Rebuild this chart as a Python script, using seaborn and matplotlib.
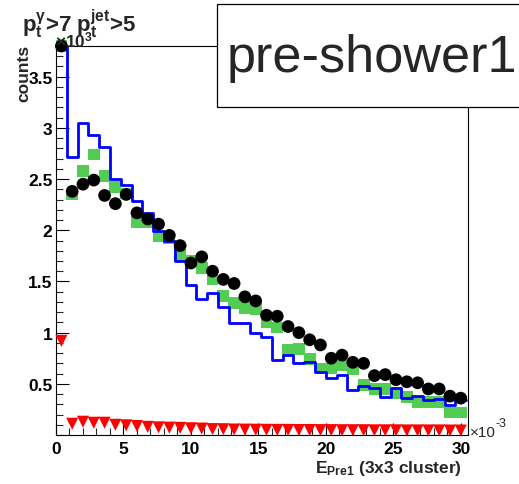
import numpy as np
import pandas as pd
import matplotlib
matplotlib.use("Agg")
import matplotlib.pyplot as plt
from matplotlib.patches import Rectangle
from matplotlib.ticker import MultipleLocator
import seaborn as sns

# ---------------- data (values in units of 1e3 counts, x in units of 1e-3) -------------
bin_edges = [round(0.8 * i, 2) for i in range(39)]          # 38 bins of width 0.8e-3
bin_centers = [round(0.4 + 0.8 * i, 2) for i in range(38)]

blue_hist = [3.85, 2.72, 3.05, 2.93, 2.81, 2.50, 2.44, 2.29, 2.17, 1.99,
             1.90, 1.70, 1.47, 1.33, 1.39, 1.25, 1.09, 1.09, 1.00, 0.96,
             0.73, 0.78, 0.70, 0.71, 0.62, 0.56, 0.59, 0.44, 0.48, 0.46,
             0.37, 0.46, 0.36, 0.38, 0.34, 0.35, 0.29, 0.34]

green_sq = [3.80, 2.35, 2.58, 2.74, 2.53, 2.42, 2.36, 2.08, 2.08, 1.94,
            1.92, 1.76, 1.70, 1.63, 1.52, 1.36, 1.29, 1.24, 1.23, 1.10,
            1.05, 0.83, 0.84, 0.74, 0.65, 0.65, 0.68, 0.64, 0.49, 0.45,
            0.45, 0.41, 0.37, 0.32, 0.32, 0.32, 0.22, 0.22]

black_dots = [3.80, 2.38, 2.45, 2.49, 2.34, 2.26, 2.35, 2.17, 2.11, 2.06,
              1.95, 1.85, 1.68, 1.74, 1.60, 1.52, 1.48, 1.35, 1.31, 1.17,
              1.16, 1.06, 1.00, 0.93, 0.88, 0.75, 0.78, 0.71, 0.70, 0.58,
              0.59, 0.54, 0.52, 0.51, 0.45, 0.45, 0.38, 0.36]

red_tri = [0.92, 0.11, 0.13, 0.12, 0.12, 0.10, 0.095, 0.088, 0.080, 0.075,
           0.072, 0.070, 0.066, 0.063, 0.058, 0.057, 0.054, 0.053, 0.052, 0.051,
           0.050, 0.050, 0.049, 0.049, 0.048, 0.048, 0.047, 0.047, 0.047, 0.046,
           0.046, 0.046, 0.045, 0.045, 0.045, 0.045, 0.044, 0.044]

x_ticks = [0, 5, 10, 15, 20, 25, 30]
x_tick_labels = ["0", "5", "10", "15", "20", "25", "30"]
y_ticks = [0.5, 1.0, 1.5, 2.0, 2.5, 3.0, 3.5]
y_tick_labels = ["0.5", "1", "1.5", "2", "2.5", "3", "3.5"]

df = pd.DataFrame({"x": bin_centers, "blue": blue_hist, "green": green_sq,
                   "black": black_dots, "red": red_tri})

# ---------------- style -------------
sns.set_style("white")
plt.rcParams["font.family"] = ["Liberation Sans", "DejaVu Sans"]
plt.rcParams["mathtext.fontset"] = "custom"
plt.rcParams["mathtext.rm"] = "Liberation Sans:bold"
plt.rcParams["mathtext.it"] = "Liberation Sans:bold"
plt.rcParams["mathtext.bf"] = "Liberation Sans:bold"
plt.rcParams["mathtext.sf"] = "Liberation Sans:bold"
plt.rcParams["mathtext.default"] = "rm"

GREEN = "#52cc52"

fig = plt.figure(figsize=(5.19, 4.85), dpi=100)
ax = fig.add_axes([0.1079, 0.1010, 0.7929, 0.8021])

sns.scatterplot(data=df, x="x", y="green", marker="s", s=72, color=GREEN,
                edgecolor="none", linewidth=0, ax=ax, zorder=2, clip_on=False)
sns.histplot(data=df, x="x", weights="blue", bins=bin_edges, element="step",
             fill=False, color="#0000ff", linewidth=2.0, ax=ax, zorder=3)
sns.scatterplot(data=df, x="x", y="black", marker="o", s=84, color="black",
                edgecolor="none", linewidth=0, ax=ax, zorder=4, clip_on=False)
sns.scatterplot(data=df, x="x", y="red", marker="v", s=75, color="#ff0000",
                edgecolor="none", linewidth=0, ax=ax, zorder=5, clip_on=False)

ax.set_xlim(0, 30.5)
ax.set_ylim(0, 3.8)
ax.set_xlabel("")
ax.set_ylabel("")

ax.set_xticks(x_ticks)
ax.set_xticklabels(x_tick_labels, fontweight="bold", fontsize=12.5)
ax.set_yticks(y_ticks)
ax.set_yticklabels(y_tick_labels, fontweight="bold", fontsize=12.5)
ax.xaxis.set_minor_locator(MultipleLocator(1))
ax.yaxis.set_minor_locator(MultipleLocator(0.1))
ax.tick_params(axis="x", which="major", direction="in", length=8.4, width=0.8,
               pad=4.3, bottom=True, top=False, colors="black")
ax.tick_params(axis="x", which="minor", direction="in", length=4.8, width=0.8,
               bottom=True, top=False)
ax.tick_params(axis="y", which="major", direction="in", length=9.4, width=0.8,
               pad=2.5, left=True, right=False, colors="black")
ax.tick_params(axis="y", which="minor", direction="in", length=5, width=0.8,
               left=True, right=False)
for sp in ax.spines.values():
    sp.set_color("black")
    sp.set_linewidth(0.8)

# ---------------- texts -------------
fig.text(22 / 519, 1 - 32 / 485, r"$p_{t}^{\gamma}$>7 $p_{t}^{jet}$>5",
         fontsize=16, fontweight="bold", ha="left", va="baseline")
fig.text(24 / 519, 1 - 45 / 485, "counts", rotation=90, fontsize=12.5,
         fontweight="bold", ha="center", va="top")
fig.text(55 / 519, 1 - 47 / 485, r"$\times$10$^{3}$", fontsize=12.5,
         fontweight="bold", ha="left", va="baseline")
fig.text(470 / 519, 1 - 437 / 485, "\u00d710", fontsize=11,
         ha="left", va="baseline")
fig.text(496 / 519, 1 - 427 / 485, "-3", fontsize=9,
         ha="left", va="baseline")
fig.text(462 / 519, 1 - 473 / 485, r"E$_{Pre1}$ (3x3 cluster)", fontsize=12.5,
         fontweight="bold", ha="right", va="baseline")

# title box
fig.patches.append(Rectangle((217 / 519, 1 - 108 / 485), 0.7, 103 / 485,
                             transform=fig.transFigure, facecolor="white",
                             edgecolor="black", linewidth=0.9, zorder=10))
fig.text(371.5 / 519, 1 - 72 / 485, "pre-shower1", fontsize=37.6,
         ha="center", va="baseline", zorder=11)

fig.savefig("out.png", dpi=100)
